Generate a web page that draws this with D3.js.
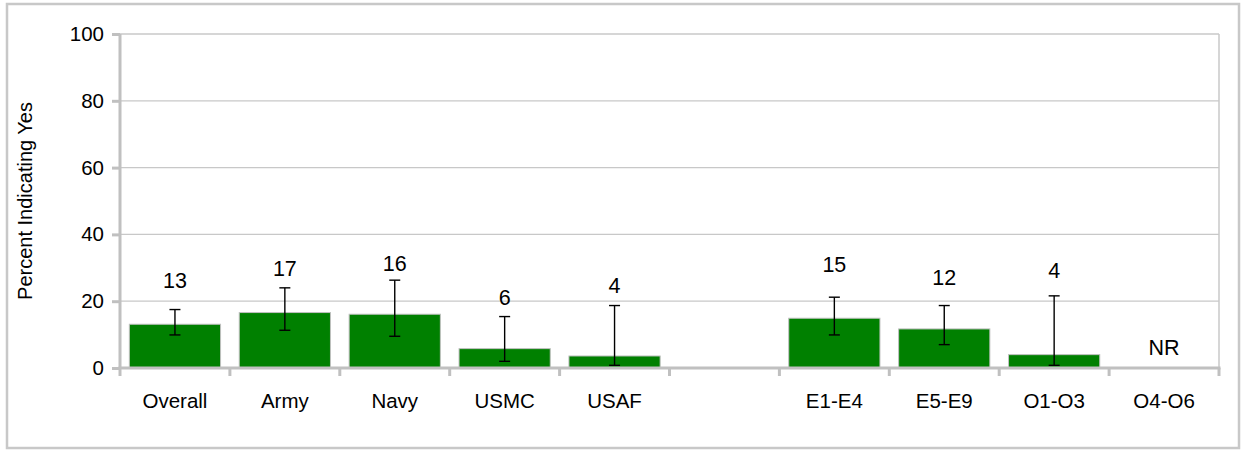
<!DOCTYPE html>
<html><head><meta charset="utf-8">
<script src="https://cdn.jsdelivr.net/npm/d3@7"></script>
<style>html,body{margin:0;padding:0;background:#fff;}svg{display:block;}</style>
</head><body>
<svg id="chart" width="1245" height="451"></svg>
<script>
const categories = ["Overall","Army","Navy","USMC","USAF","","E1-E4","E5-E9","O1-O3","O4-O6"];
const values     = [13.1, 16.6, 16.1, 5.8, 3.6, null, 14.9, 11.7, 4.0, null];
const errLow     = [9.9, 11.3, 9.5, 2.0, 0.8, null, 9.9, 7.0, 0.8, null];
const errHigh    = [17.5, 24.0, 26.3, 15.4, 18.7, null, 21.2, 18.7, 21.6, null];
const valueLabels= ["13","17","16","6","4","","15","12","4","NR"];
const labelAt    = [26.1, 29.9, 31.4, 21.0, 24.6, null, 31.1, 27.2, 29.3, 6.1];
const yTicks     = [0, 20, 40, 60, 80, 100];
const yTitle     = "Percent Indicating Yes";

const svg = d3.select("#chart");
const font = "'Liberation Sans', Arial, sans-serif";
const L = 120, R = 1219, T = 34, B = 368;

svg.append("rect").attr("x",7).attr("y",4).attr("width",1232).attr("height",444)
  .attr("fill","#fff").attr("stroke","#c8c8c8").attr("stroke-width",2.5);

const x = d3.scaleBand().domain(d3.range(categories.length)).range([L, R])
  .paddingInner(0.17).paddingOuter(0.085);
const y = d3.scaleLinear().domain([0,100]).range([B, T]);

// gridlines
svg.append("g").selectAll("line").data(yTicks.filter(d=>d>0)).join("line")
  .attr("x1",L).attr("x2",R).attr("y1",d=>y(d)).attr("y2",d=>y(d))
  .attr("stroke","#c8c8c8").attr("stroke-width",1.3);
// right border of plot
svg.append("line").attr("x1",R).attr("x2",R).attr("y1",T).attr("y2",B)
  .attr("stroke","#c8c8c8").attr("stroke-width",1.5);

// bars
const idx = d3.range(categories.length).filter(i=>values[i]!=null);
svg.append("g").selectAll("rect").data(idx).join("rect")
  .attr("x",i=>x(i)).attr("width",x.bandwidth())
  .attr("y",i=>y(values[i])).attr("height",i=>y(0)-y(values[i]))
  .attr("fill","#008000").attr("stroke","#c0c0c0").attr("stroke-width",1);

// error bars
const eg = svg.append("g").attr("stroke","#000").attr("stroke-width",1.4);
idx.forEach(i=>{
  const cx = x(i)+x.bandwidth()/2;
  eg.append("line").attr("x1",cx).attr("x2",cx).attr("y1",y(errLow[i])).attr("y2",y(errHigh[i]));
  eg.append("line").attr("x1",cx-5.5).attr("x2",cx+5.5).attr("y1",y(errLow[i])).attr("y2",y(errLow[i]));
  eg.append("line").attr("x1",cx-5.5).attr("x2",cx+5.5).attr("y1",y(errHigh[i])).attr("y2",y(errHigh[i]));
});

// value labels
svg.append("g").selectAll("text").data(d3.range(categories.length).filter(i=>labelAt[i]!=null)).join("text")
  .attr("x",i=>x(i)+x.bandwidth()/2).attr("y",i=>y(labelAt[i]))
  .attr("dy","0.35em").attr("text-anchor","middle")
  .attr("font-family",font).attr("font-size",21.5).attr("fill","#000")
  .text(i=>valueLabels[i]);

// y axis
const yAxis = svg.append("g").attr("transform",`translate(${L},0)`)
  .call(d3.axisLeft(y).tickValues(yTicks).tickSize(8).tickPadding(8));
yAxis.select(".domain").attr("stroke","#c0c0c0").attr("stroke-width",3).attr("d",`M0,${T}V${B}`);
yAxis.selectAll(".tick line").attr("stroke","#c0c0c0").attr("stroke-width",3);
yAxis.selectAll(".tick text").attr("font-family",font).attr("font-size",20.5).attr("fill","#000");

// x axis
const xTickScale = d3.scaleLinear().domain([0,categories.length]).range([L,R]);
const xAxis = svg.append("g").attr("transform",`translate(0,${B})`);
xAxis.append("line").attr("x1",L-1.5).attr("x2",R+1.5).attr("y1",0).attr("y2",0)
  .attr("stroke","#c0c0c0").attr("stroke-width",3);
xAxis.selectAll("line.tk").data(d3.range(categories.length+1)).join("line").attr("class","tk")
  .attr("x1",d=>xTickScale(d)).attr("x2",d=>xTickScale(d)).attr("y1",0).attr("y2",8)
  .attr("stroke","#c0c0c0").attr("stroke-width",3);
xAxis.selectAll("text").data(d3.range(categories.length)).join("text")
  .attr("x",i=>x(i)+x.bandwidth()/2).attr("y",33).attr("dy","0.35em")
  .attr("text-anchor","middle").attr("font-family",font).attr("font-size",20.5).attr("fill","#000")
  .text(i=>categories[i]);

// y title
svg.append("text").attr("transform",`translate(25,${(T+B)/2}) rotate(-90)`)
  .attr("text-anchor","middle").attr("dy","0.35em")
  .attr("font-family",font).attr("font-size",20).attr("fill","#000").text(yTitle);
</script>
</body></html>
